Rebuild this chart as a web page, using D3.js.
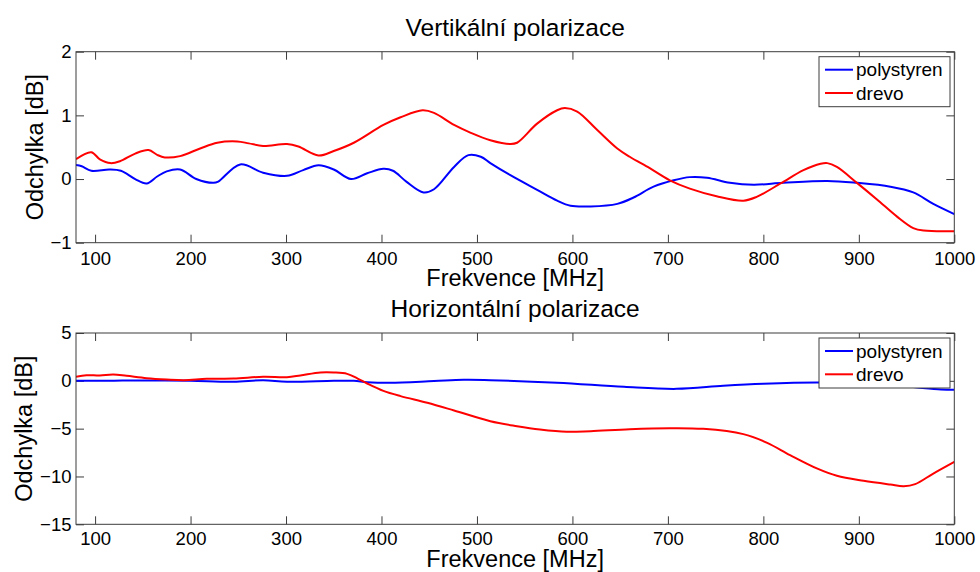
<!DOCTYPE html>
<html>
<head>
<meta charset="utf-8">
<script src="https://cdn.jsdelivr.net/npm/d3@7"></script>
<style>
  html, body { margin: 0; padding: 0; background: #fff; }
  svg { display: block; font-family: "Liberation Sans", Arial, Helvetica, sans-serif; }
</style>
</head>
<body>
<svg id="chart" width="980" height="572"></svg>
<script>
// ---------- DATA ----------
const xTicks = [100, 200, 300, 400, 500, 600, 700, 800, 900, 1000];
const vYTicks = [-1, 0, 1, 2];
const hYTicks = [-15, -10, -5, 0, 5];
const seriesNames = ["polystyren", "drevo"];

// Vertical polarization
const vFreqBlue = [80,86,96,115,127,142,154,165,175,189,206,224,229,252,276,301,318,334,350,368,385,402,412,426,444,455,476,491,504,514,535,563,584,598,619,647,664,685,706,723,741,765,790,821,867,898,933,957,978,1000];
const vBlue = [0.22,0.20,0.13,0.15,0.13,0,-0.07,0.04,0.12,0.15,0,-0.06,-0.04,0.23,0.10,0.05,0.14,0.215,0.15,0.0,0.09,0.16,0.13,-0.04,-0.21,-0.16,0.19,0.375,0.35,0.25,0.06,-0.17,-0.34,-0.42,-0.43,-0.39,-0.29,-0.12,-0.02,0.03,0.02,-0.06,-0.09,-0.06,-0.03,-0.06,-0.12,-0.21,-0.39,-0.55];
const vFreqRed = [80,96,105,116,126,142,156,165,173,189,210,228,249,261,276,301,313,334,350,371,402,420,443,455,476,493,514,535,542,563,584,592,605,626,647,660,681,702,723,751,779,793,818,842,860,867,877,898,919,940,957,968,1000];
const vRed = [0.31,0.42,0.31,0.25,0.28,0.40,0.455,0.38,0.34,0.36,0.48,0.57,0.59,0.56,0.52,0.55,0.51,0.37,0.44,0.57,0.85,0.97,1.08,1.04,0.85,0.73,0.61,0.55,0.57,0.87,1.08,1.115,1.06,0.77,0.48,0.35,0.17,-0.02,-0.15,-0.27,-0.34,-0.28,-0.07,0.14,0.24,0.25,0.19,-0.06,-0.32,-0.59,-0.77,-0.81,-0.82];

// Horizontal polarization
const hFreqBlue = [80,120,160,200,245,276,301,350,371,385,409,455,486,514,584,654,709,758,800,856,900,950,986,1000];
const hBlue = [0,0.02,0.03,0,-0.1,0.07,-0.1,0,0,-0.14,-0.21,-0.03,0.1,0.07,-0.2,-0.63,-0.84,-0.52,-0.31,-0.17,-0.25,-0.6,-0.9,-0.94];
const hFreqRed = [80,91,105,119,133,154,175,193,217,245,276,301,315,336,350,364,375,385,402,420,448,476,514,542,566,594,619,660,702,737,779,804,828,856,877,905,933,947,959,978,1000];
const hRed = [0.42,0.59,0.56,0.66,0.52,0.28,0.14,0.07,0.21,0.24,0.42,0.38,0.56,0.87,0.87,0.73,0.24,-0.28,-1.05,-1.6,-2.3,-3.1,-4.22,-4.74,-5.09,-5.33,-5.26,-5.05,-4.95,-5.02,-5.57,-6.48,-7.77,-9.16,-9.93,-10.45,-10.84,-11.01,-10.8,-9.69,-8.47];

// ---------- DRAW ----------
const svg = d3.select("#chart");
const frameColor = "#3c3c3c";
const colors = ["#0000ff", "#ff0000"];

const panels = [
  { title: "Vertikální polarizace", top: 51.7, bottom: 242.7, yDomain: [-1, 2], yTicks: vYTicks,
    series: [{x: vFreqBlue, y: vBlue}, {x: vFreqRed, y: vRed}],
    titleY: 36, tickLabelY: 22.5, xLabelY: 43.5, yLabelX: 43 },
  { title: "Horizontální polarizace", top: 333, bottom: 524.3, yDomain: [-15, 5], yTicks: hYTicks,
    series: [{x: hFreqBlue, y: hBlue}, {x: hFreqRed, y: hRed}],
    titleY: 316.5, tickLabelY: 21, xLabelY: 42.5, yLabelX: 31.5 }
];

const left = 76, right = 954.3;
const x = d3.scaleLinear().domain([80, 1000]).range([left, right]);
const tickLen = 8;

panels.forEach((p, i) => {
  const y = d3.scaleLinear().domain(p.yDomain).range([p.bottom, p.top]);
  const g = svg.append("g");

  // clip
  const clipId = "clip" + i;
  svg.append("clipPath").attr("id", clipId).append("rect")
    .attr("x", left).attr("y", p.top).attr("width", right - left).attr("height", p.bottom - p.top);

  // bottom axis
  const xb = g.append("g").attr("transform", `translate(0,${p.bottom})`)
    .call(d3.axisBottom(x).tickValues(xTicks).tickSize(-tickLen).tickPadding(0).tickFormat(d3.format("d")));
  xb.select(".domain").remove();
  xb.selectAll("line").attr("stroke", frameColor);
  xb.selectAll("text").attr("font-size", 18.5).attr("fill", "#000")
    .attr("dy", null).attr("y", p.tickLabelY);

  // top axis ticks
  const xt = g.append("g").attr("transform", `translate(0,${p.top})`)
    .call(d3.axisTop(x).tickValues(xTicks).tickSize(-tickLen).tickFormat(""));
  xt.select(".domain").remove();
  xt.selectAll("line").attr("stroke", frameColor);

  // left axis
  const yl = g.append("g").attr("transform", `translate(${left},0)`)
    .call(d3.axisLeft(y).tickValues(p.yTicks).tickSize(-tickLen).tickPadding(4.5)
      .tickFormat(d => d < 0 ? "\u2212" + Math.abs(d) : d));
  yl.select(".domain").remove();
  yl.selectAll("line").attr("stroke", frameColor);
  yl.selectAll("text").attr("font-size", 18.5).attr("fill", "#000").attr("x", -4.5);

  // right axis ticks
  const yr = g.append("g").attr("transform", `translate(${right},0)`)
    .call(d3.axisRight(y).tickValues(p.yTicks).tickSize(-tickLen).tickFormat(""));
  yr.select(".domain").remove();
  yr.selectAll("line").attr("stroke", frameColor);

  // lines
  const lg = g.append("g").attr("clip-path", `url(#${clipId})`);
  p.series.forEach((s, k) => {
    const pts = s.x.map((fx, j) => [fx, s.y[j]]);
    lg.append("path").datum(pts)
      .attr("fill", "none").attr("stroke", colors[k]).attr("stroke-width", 2)
      .attr("stroke-linejoin", "round")
      .attr("d", d3.line().x(d => x(d[0])).y(d => y(d[1])).curve(d3.curveCatmullRom.alpha(0.5)));
  });

  // frame
  g.append("rect").attr("x", left).attr("y", p.top)
    .attr("width", right - left).attr("height", p.bottom - p.top)
    .attr("fill", "none").attr("stroke", frameColor).attr("stroke-width", 1);

  // title
  g.append("text").attr("x", (left + right) / 2).attr("y", p.titleY)
    .attr("text-anchor", "middle").attr("font-size", 24.5).attr("fill", "#000").text(p.title);

  // x label
  g.append("text").attr("x", (left + right) / 2).attr("y", p.bottom + p.xLabelY)
    .attr("text-anchor", "middle").attr("font-size", 23.5).attr("fill", "#000").text("Frekvence [MHz]");

  // y label
  g.append("text")
    .attr("transform", `translate(${p.yLabelX},${(p.top + p.bottom) / 2}) rotate(-90)`)
    .attr("text-anchor", "middle").attr("font-size", 23.5).attr("fill", "#000").text("Odchylka [dB]");

  // legend
  const lx = 819, ly = p.top + 5, lw = 131, lh = 50;
  const leg = g.append("g");
  leg.append("rect").attr("x", lx).attr("y", ly).attr("width", lw).attr("height", lh)
    .attr("fill", "#fff").attr("stroke", frameColor).attr("stroke-width", 1);
  seriesNames.forEach((name, k) => {
    const ry = ly + 13 + k * 23.3;
    leg.append("line").attr("x1", lx + 6).attr("x2", lx + 34).attr("y1", ry).attr("y2", ry)
      .attr("stroke", colors[k]).attr("stroke-width", 2);
    leg.append("text").attr("x", lx + 37).attr("y", ry).attr("dominant-baseline", "central")
      .attr("font-size", 19).attr("fill", "#000").text(name);
  });
});
</script>
</body>
</html>
